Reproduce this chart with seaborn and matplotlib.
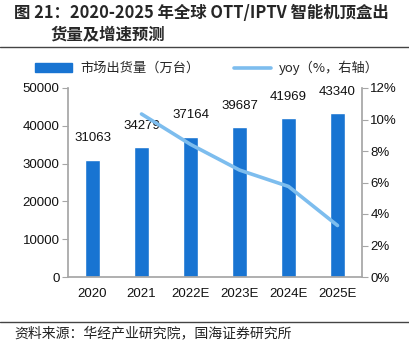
import matplotlib
matplotlib.use("Agg")
import matplotlib.pyplot as plt
import seaborn as sns
import pandas as pd
import numpy as np
from matplotlib.patches import Patch
from matplotlib.lines import Line2D

categories = ["2020", "2021", "2022E", "2023E", "2024E", "2025E"]
shipments = [31063, 34279, 37164, 39687, 41969, 43340]
yoy_categories = ["2021", "2022E", "2023E", "2024E", "2025E"]
yoy = [10.35, 8.42, 6.79, 5.75, 3.27]
left_ticks = [0, 10000, 20000, 30000, 40000, 50000]
right_ticks = [0, 2, 4, 6, 8, 10, 12]

sns.set_theme(style="white")
plt.rcParams['font.family'] = ['Liberation Sans', 'Noto Sans CJK SC', 'DejaVu Sans']
cjk = ['Noto Sans CJK SC', 'DejaVu Sans']

BAR = "#1874D2"
LINE = "#7DBDEE"
GRAY = "#A6A6A6"

fig = plt.figure(figsize=(4.10, 3.45), dpi=100)
ax = fig.add_axes([68/410, 1-277/345, (362-68)/410, (277-88)/345])

df = pd.DataFrame({"cat": categories, "val": shipments})
sns.barplot(data=df, x="cat", y="val", order=categories, color=BAR,
            width=0.31, saturation=1, ax=ax)
ax.set_ylim(0, 50000)
ax.set_yticks(left_ticks)
ax.set_xlabel("")
ax.set_ylabel("")
for i, v in enumerate(shipments):
    ax.annotate(f"{v}", (i, v), xytext=(0, 11), textcoords="offset points",
                ha="center", va="bottom", fontsize=9.5, color="#111111")

ax2 = ax.twinx()
pos = {c: i for i, c in enumerate(categories)}
dfl = pd.DataFrame({"x": [pos[c] for c in yoy_categories], "y": yoy})
sns.lineplot(data=dfl, x="x", y="y", color=LINE, linewidth=2.6, ax=ax2)
ax2.set_ylim(0, 12)
ax2.set_yticks(right_ticks)
ax2.set_yticklabels([f"{t}%" for t in right_ticks])
ax2.set_xlabel("")
ax2.set_ylabel("")
ax.set_xlim(-0.5, 5.5)

for a in (ax, ax2):
    for s in a.spines.values():
        s.set_visible(False)
    a.tick_params(axis="both", labelsize=9.5, colors="#111111", length=4,
                  width=0.8, direction="out")
    a.grid(False)
ax.spines["left"].set_visible(True)
ax.spines["left"].set_color(GRAY)
ax.spines["bottom"].set_visible(True)
ax.spines["bottom"].set_color(GRAY)
ax2.spines["right"].set_visible(True)
ax2.spines["right"].set_color(GRAY)
ax.tick_params(axis="y", color=GRAY, pad=2)
ax2.tick_params(axis="y", color=GRAY, pad=2)
ax.tick_params(axis="x", length=0, pad=8)

handles = [Patch(facecolor=BAR, edgecolor=BAR),
           Line2D([0], [0], color=LINE, linewidth=2.6)]
labels = ["市场出货量（万台）", "yoy（%，右轴）"]
fig.legend(handles, labels, loc="center", bbox_to_anchor=(0.505, 1-68/345),
           ncol=2, frameon=False, prop={"family": cjk, "size": 9.5},
           handlelength=2.8, handleheight=0.7, columnspacing=2.6, handletextpad=0.6)

fig.text(14/410, 1-13/345, "图 21：2020-2025 年全球 OTT/IPTV 智能机顶盒出",
         family=cjk, fontsize=11.8, fontweight="bold", va="center", ha="left")
fig.text(50/410, 1-34/345, "货量及增速预测",
         family=cjk, fontsize=11.8, fontweight="bold", va="center", ha="left")
fig.add_artist(Line2D([0, 1], [1-47/345, 1-47/345], color="#444444", linewidth=1.0))
fig.add_artist(Line2D([0, 1], [1-322/345, 1-322/345], color="#444444", linewidth=1.0))
fig.text(14/410, 1-333/345, "资料来源：华经产业研究院，国海证券研究所",
         family=cjk, fontsize=10, va="center", ha="left", color="#222222")

fig.savefig("out.png", dpi=100)
